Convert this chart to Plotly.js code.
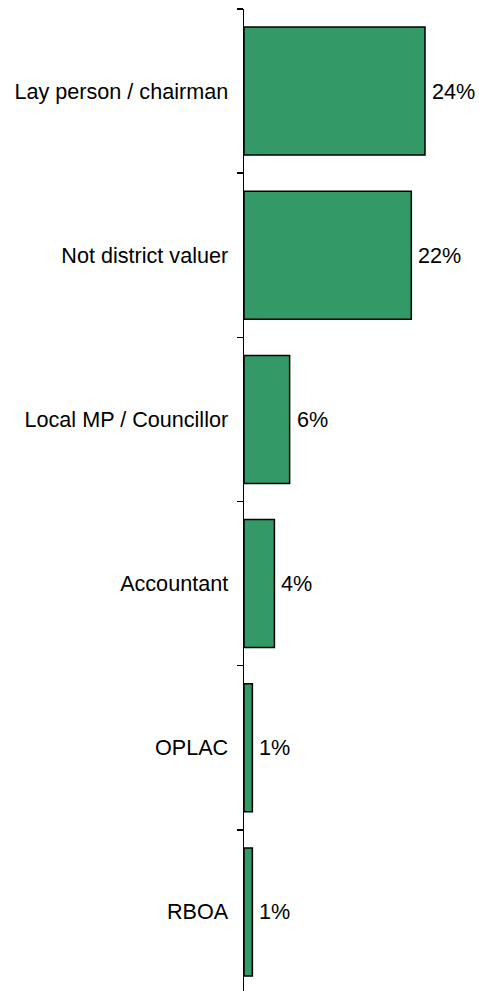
<!DOCTYPE html>
<html>
<head>
<meta charset="utf-8">
<script src="https://cdn.plot.ly/plotly-3.0.1.min.js"></script>
<style>
html,body{margin:0;padding:0;background:#fff;overflow:hidden;}
#chart{width:479px;height:994px;}
</style>
</head>
<body>
<div id="chart"></div>
<script>
const categories = ["Lay person / chairman", "Not district valuer", "Local MP / Councillor", "Accountant", "OPLAC", "RBOA"];
const values = [23.8, 22.0, 6.0, 4.0, 1.1, 1.1];
const valueLabels = ["24%", "22%", "6%", "4%", "1%", "1%"];

const font = "Liberation Sans, Arial, sans-serif";

const trace = {
  type: "bar",
  orientation: "h",
  x: values,
  y: categories,
  marker: {color: "#339966", line: {color: "#000000", width: 1.5}},
  hoverinfo: "none"
};

const annotations = categories.map((c, i) => ({
  x: values[i], y: c, xref: "x", yref: "y",
  text: valueLabels[i], showarrow: false,
  xanchor: "left", yanchor: "middle", xshift: 5,
  font: {family: font, size: 21.6, color: "#000"}
}));

const layout = {
  width: 479, height: 994,
  margin: {l: 244, r: 0, t: 9, b: 0, pad: 0},
  paper_bgcolor: "#fff", plot_bgcolor: "#fff",
  showlegend: false,
  bargap: 0.22,
  font: {family: font, size: 21.6, color: "#000"},
  xaxis: {range: [0, 30.9], visible: false, showgrid: false, zeroline: false, fixedrange: true},
  yaxis: {
    type: "category",
    autorange: false,
    range: [5.5, -0.5],
    showline: true, linecolor: "#000", linewidth: 1.5,
    ticks: "outside", ticklen: 6, tickwidth: 1.5, tickcolor: "#000",
    tickson: "boundaries",
    ticklabelstandoff: 10,
    showgrid: false, zeroline: false,
    tickfont: {family: font, size: 21.6, color: "#000"}
  },
  annotations: annotations
};

Plotly.newPlot("chart", [trace], layout, {staticPlot: true, displayModeBar: false});
</script>
</body>
</html>
